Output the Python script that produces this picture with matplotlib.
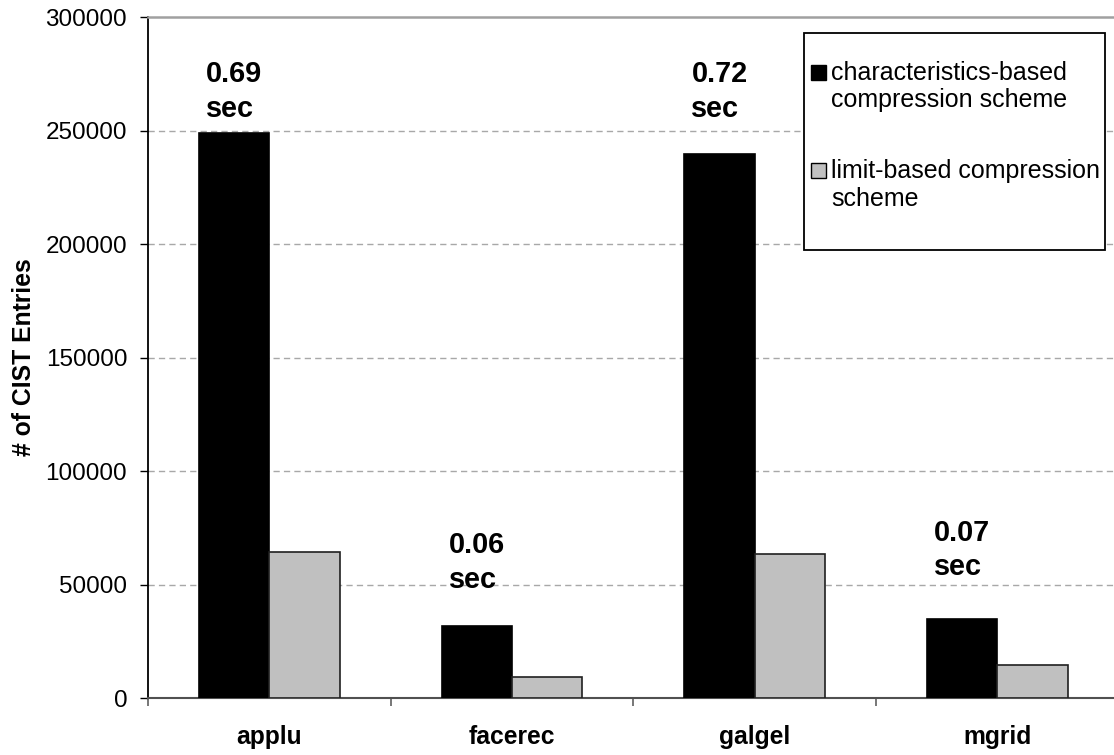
import numpy as np
import matplotlib
matplotlib.use("Agg")
import matplotlib.pyplot as plt
from matplotlib.patches import Rectangle

plt.rcParams['font.family'] = ['Liberation Sans', 'DejaVu Sans']

benchmarks = ['applu', 'facerec', 'galgel', 'mgrid']
char_based = [249000, 32000, 239500, 34800]
limit_based = [64300, 9200, 63700, 14700]
times = ['0.69', '0.06', '0.72', '0.07']
time_label_y = [281000, 73500, 281000, 79000]
series_names = ['characteristics-based\ncompression scheme',
                'limit-based compression\nscheme']
yticks = [0, 50000, 100000, 150000, 200000, 250000, 300000]

fig = plt.figure(figsize=(11.14, 7.55), dpi=100)
ax = fig.add_axes([148 / 1114, 1 - 698.3 / 755, 970.7 / 1114, 681.3 / 755])

x = np.arange(len(benchmarks))
w = 0.29
ax.bar(x - w / 2, char_based, w, color='black', edgecolor='black', linewidth=1.2, zorder=3)
ax.bar(x + w / 2, limit_based, w, color='#c0c0c0', edgecolor='#202020', linewidth=1.2, zorder=3)

for xi, t, ty in zip(x, times, time_label_y):
    ax.text(xi - w / 2, ty, t + '\nsec', ha='center', va='top', multialignment='left',
            fontsize=20.8, fontweight='bold', linespacing=1.3, zorder=4)

ax.set_xlim(-0.5, 3.5)
ax.set_ylim(0, 300000)
ax.set_yticks(yticks)
ax.set_yticklabels([str(v) for v in yticks])
ax.set_xticks(np.arange(-0.5, 3.6, 1.0))
ax.set_xticklabels([])
ax.set_xticks(x, minor=True)
ax.set_xticklabels(benchmarks, minor=True, fontsize=17.7, fontweight='bold')
ax.tick_params(axis='x', which='minor', length=0, pad=19)
ax.tick_params(axis='x', which='major', length=6, width=1.2, color='#606060', direction='out')
ax.tick_params(axis='y', length=6, width=1.0, labelsize=17.5, pad=9)

for v in yticks[1:-1]:
    ax.axhline(v, color='#a8a8a8', lw=1.0, ls=(0, (4.5, 3)), zorder=1)

ax.spines['right'].set_visible(False)
ax.spines['top'].set_color('#a0a0a0')
ax.spines['top'].set_linewidth(1.8)
ax.spines['bottom'].set_color('#505050')
ax.spines['bottom'].set_linewidth(1.5)
ax.spines['left'].set_color('black')
ax.spines['left'].set_linewidth(1.3)

fig.text(24 / 1114, 1 - 357.5 / 755, '# of CIST Entries', rotation=90, ha='center', va='center',
         fontsize=17.8, fontweight='bold')

# legend drawn by hand so the swatch sits on the first line
def fx(px):
    return (px - 148) / 970.7

def fy(py):
    return (698.3 - py) / 681.3

ax.add_patch(Rectangle((fx(804), fy(250)), fx(1105) - fx(804), fy(33.3) - fy(250),
                       transform=ax.transAxes, facecolor='white', edgecolor='black',
                       lw=1.3, zorder=5))
colors = ['black', '#c0c0c0']
tops = [64.5, 163]
for name, c, t in zip(series_names, colors, tops):
    ax.add_patch(Rectangle((fx(810.5), fy(t + 15)), fx(825.5) - fx(810.5), fy(t) - fy(t + 15),
                           transform=ax.transAxes, facecolor=c, edgecolor='black',
                           lw=1.0, zorder=6))
    ax.text(fx(831), fy(t - 4), name, transform=ax.transAxes, ha='left', va='top',
            fontsize=18, linespacing=1.2, zorder=6)

fig.savefig('out.png', dpi=100)
